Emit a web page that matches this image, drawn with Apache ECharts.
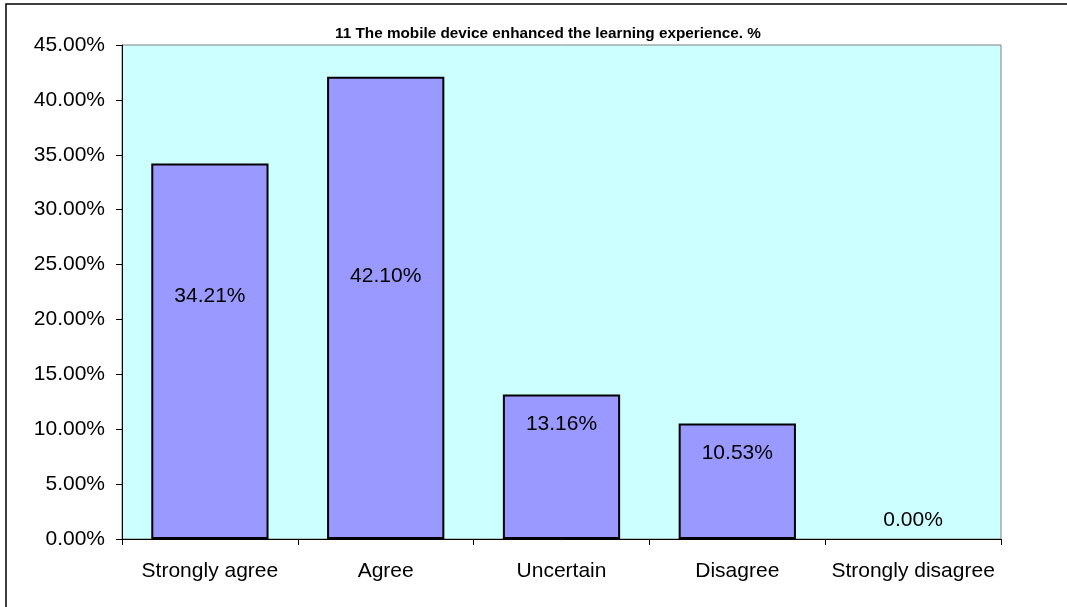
<!DOCTYPE html>
<html>
<head>
<meta charset="utf-8">
<script src="https://cdn.jsdelivr.net/npm/echarts@6/dist/echarts.min.js"></script>
<style>
  html, body { margin: 0; padding: 0; background: #fff; }
  #chart { width: 1067px; height: 607px; }
</style>
</head>
<body>
<div id="chart"></div>
<script>
// Survey item 11: share of responses per answer
const chartTitle = '11 The mobile device enhanced the learning experience. %';
const categories = ['Strongly agree', 'Agree', 'Uncertain', 'Disagree', 'Strongly disagree'];
const percentages = [34.21, 42.10, 13.16, 10.53, 0.00];

// Vertical placement of each value label, measured from the top of its bar (px)
const labelDrop = [133, 199, 30, 30, -19];

const fontFamily = 'Liberation Sans, Arial, sans-serif';
const chart = echarts.init(document.getElementById('chart'), null, { renderer: 'canvas' });

const seriesData = percentages.map((v, i) => ({
  value: v,
  itemStyle: v === 0 ? { borderWidth: 0 } : undefined,
  label: { position: ['50%', labelDrop[i]] }
}));

chart.setOption({
  animation: false,
  backgroundColor: '#ffffff',
  title: {
    text: chartTitle,
    left: 543,
    top: 21,
    textAlign: 'center',
    textStyle: { fontFamily, fontSize: 15.3, fontWeight: 'bold', color: '#000' }
  },
  graphic: [{
    type: 'rect',
    shape: { x: 6, y: 4, width: 1200, height: 800 },
    style: { fill: 'none', stroke: '#000', lineWidth: 1.5 },
    silent: true,
    z: 100
  }],
  grid: {
    left: 122, right: 66, top: 45, bottom: 68,
    show: true,
    backgroundColor: '#CCFFFF',
    borderColor: '#808080',
    borderWidth: 1
  },
  xAxis: {
    type: 'category',
    data: categories,
    axisLine: { lineStyle: { color: '#000', width: 1 } },
    axisTick: { show: true, length: 6, lineStyle: { color: '#000' } },
    axisLabel: { color: '#000', fontFamily, fontSize: 21, margin: 22, interval: 0 }
  },
  yAxis: {
    type: 'value',
    min: 0, max: 45, interval: 5,
    axisLine: { show: true, lineStyle: { color: '#000', width: 1 } },
    axisTick: { show: true, length: 6, lineStyle: { color: '#000' } },
    splitLine: { show: false },
    axisLabel: {
      color: '#000', fontFamily, fontSize: 21, margin: 17,
      formatter: v => v.toFixed(2) + '%'
    }
  },
  series: [{
    type: 'bar',
    data: seriesData,
    barCategoryGap: '33.3%',
    itemStyle: { color: '#9999FF', borderColor: '#000', borderWidth: 2 },
    label: {
      show: true,
      align: 'center',
      verticalAlign: 'middle',
      color: '#000',
      fontFamily,
      fontSize: 21,
      formatter: p => p.value.toFixed(2) + '%'
    }
  }]
});
</script>
</body>
</html>
